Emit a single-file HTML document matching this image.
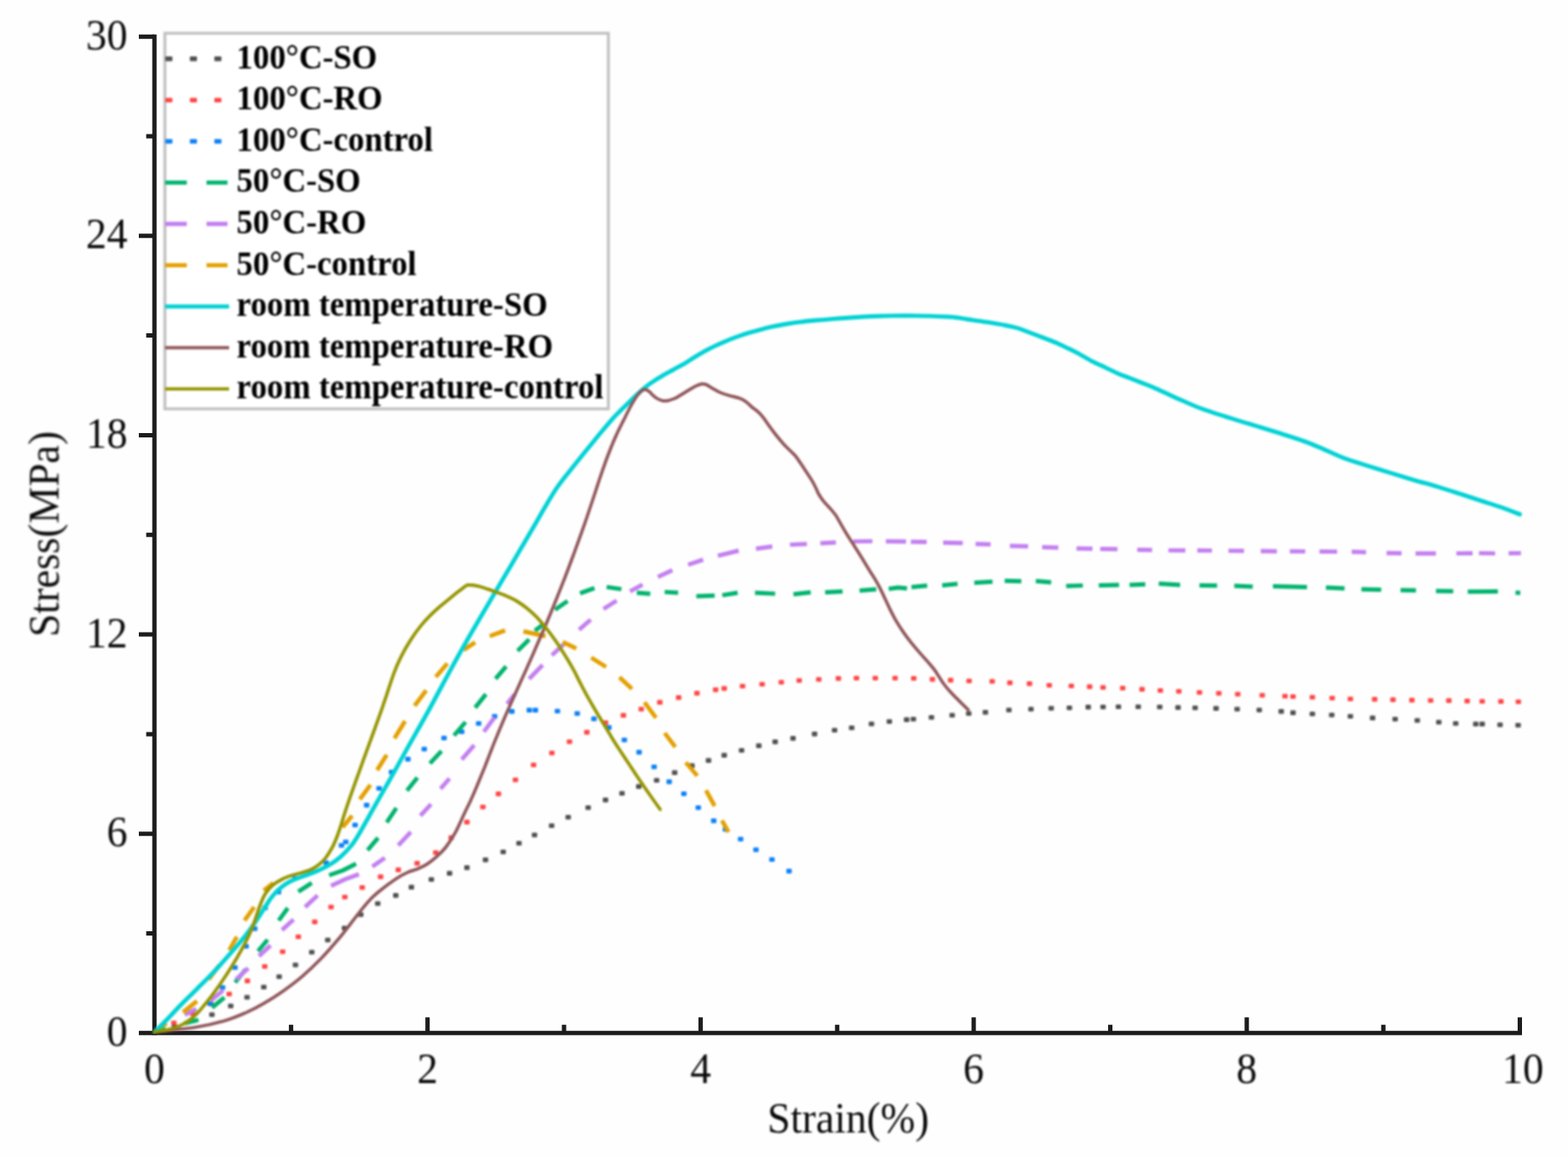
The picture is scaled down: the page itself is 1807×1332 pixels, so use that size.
<!DOCTYPE html>
<html lang="en">
<head>
<meta charset="utf-8">
<title>Stress-strain curves</title>
<style>
html,body{margin:0;padding:0;background:#fff;}
body{width:1807px;height:1332px;overflow:hidden;}
svg{display:block;}
text{font-family:"Liberation Serif",serif;fill:#0a0a0a;}
.tick{font-size:50.5px;}
.lab{font-size:48px;}
.leg{font-size:37.8px;font-weight:bold;fill:#000;}
.ax{stroke:#1c1c1c;stroke-width:5.0;fill:none;}
</style>
</head>
<body>
<svg width="1807" height="1332" viewBox="0 0 1807 1332">
<defs><filter id="soft" x="-5%" y="-5%" width="110%" height="110%" color-interpolation-filters="sRGB"><feGaussianBlur stdDeviation="0.8"/></filter></defs>
<rect width="1807" height="1332" fill="#fefefe"/>
<g>
<g id="axes">
<path class="ax" d="M178.0 39.7 V1192.8"/>
<path class="ax" d="M160.0 1190.3 H1754.0"/>
<path class="ax" d="M168.5 1075.5 H178.0 M160 960.7 H178.0 M168.5 845.9 H178.0 M160 731.1 H178.0 M168.5 616.2 H178.0 M160 501.4 H178.0 M168.5 386.6 H178.0 M160 271.8 H178.0 M168.5 157 H178.0 M160 42.2 H178.0 M335.4 1190.3 V1180.8 M492.7 1190.3 V1172.3 M650 1190.3 V1180.8 M807.4 1190.3 V1172.3 M964.8 1190.3 V1180.8 M1122.1 1190.3 V1172.3 M1279.5 1190.3 V1180.8 M1436.8 1190.3 V1172.3 M1594.2 1190.3 V1180.8 M1751.5 1190.3 V1172.3 "/>
</g>
<g id="curves" filter="url(#soft)">
<g fill="#4f4f4f"><rect x="197.9" y="1180.3" width="6.2" height="5.3" rx="1"/><rect x="218.9" y="1173.8" width="6.2" height="5.3" rx="1"/><rect x="241.1" y="1166.4" width="6.2" height="5.3" rx="1"/><rect x="262.8" y="1156.4" width="6.2" height="5.3" rx="1"/><rect x="281.6" y="1146.5" width="6.2" height="5.3" rx="1"/><rect x="300.9" y="1134.8" width="6.2" height="5.3" rx="1"/><rect x="318.6" y="1122.8" width="6.2" height="5.3" rx="1"/><rect x="337.4" y="1109.3" width="6.2" height="5.3" rx="1"/><rect x="356.2" y="1094.4" width="6.2" height="5.3" rx="1"/><rect x="374.6" y="1080.5" width="6.2" height="5.3" rx="1"/><rect x="393.9" y="1066.8" width="6.2" height="5.3" rx="1"/><rect x="412.7" y="1051.3" width="6.2" height="5.3" rx="1"/><rect x="432.2" y="1038.4" width="6.2" height="5.3" rx="1"/><rect x="453" y="1029.1" width="6.2" height="5.3" rx="1"/><rect x="471" y="1019.6" width="6.2" height="5.3" rx="1"/><rect x="494" y="1010.8" width="6.2" height="5.3" rx="1"/><rect x="515" y="1003.6" width="6.2" height="5.3" rx="1"/><rect x="535" y="997.1" width="6.2" height="5.3" rx="1"/><rect x="556.4" y="988.1" width="6.2" height="5.3" rx="1"/><rect x="576.8" y="978.9" width="6.2" height="5.3" rx="1"/><rect x="595" y="968.9" width="6.2" height="5.3" rx="1"/><rect x="612.9" y="959.4" width="6.2" height="5.3" rx="1"/><rect x="632.6" y="948.8" width="6.2" height="5.3" rx="1"/><rect x="651.7" y="939" width="6.2" height="5.3" rx="1"/><rect x="674.7" y="928" width="6.2" height="5.3" rx="1"/><rect x="694.7" y="919.1" width="6.2" height="5.3" rx="1"/><rect x="713.7" y="911.4" width="6.2" height="5.3" rx="1"/><rect x="733" y="903.6" width="6.2" height="5.3" rx="1"/><rect x="753.6" y="896.4" width="6.2" height="5.3" rx="1"/><rect x="774.4" y="887.6" width="6.2" height="5.3" rx="1"/><rect x="794.3" y="879.6" width="6.2" height="5.3" rx="1"/><rect x="813.4" y="873.6" width="6.2" height="5.3" rx="1"/><rect x="831.5" y="867.6" width="6.2" height="5.3" rx="1"/><rect x="851.5" y="862" width="6.2" height="5.3" rx="1"/><rect x="871.4" y="856.6" width="6.2" height="5.3" rx="1"/><rect x="890.2" y="852.1" width="6.2" height="5.3" rx="1"/><rect x="910.8" y="848.1" width="6.2" height="5.3" rx="1"/><rect x="935.6" y="843.1" width="6.2" height="5.3" rx="1"/><rect x="958.7" y="838.8" width="6.2" height="5.3" rx="1"/><rect x="978.4" y="835.9" width="6.2" height="5.3" rx="1"/><rect x="1001.2" y="831.5" width="6.2" height="5.3" rx="1"/><rect x="1021.8" y="828.8" width="6.2" height="5.3" rx="1"/><rect x="1041.7" y="826.6" width="6.2" height="5.3" rx="1"/><rect x="1049.5" y="825.9" width="6.2" height="5.3" rx="1"/><rect x="1070.3" y="823.9" width="6.2" height="5.3" rx="1"/><rect x="1094.2" y="821.5" width="6.2" height="5.3" rx="1"/><rect x="1113.3" y="819.5" width="6.2" height="5.3" rx="1"/><rect x="1132.5" y="818.1" width="6.2" height="5.3" rx="1"/><rect x="1159.6" y="815.5" width="6.2" height="5.3" rx="1"/><rect x="1185" y="814.4" width="6.2" height="5.3" rx="1"/><rect x="1208.3" y="813.5" width="6.2" height="5.3" rx="1"/><rect x="1229.3" y="812.9" width="6.2" height="5.3" rx="1"/><rect x="1251" y="812.1" width="6.2" height="5.3" rx="1"/><rect x="1268.1" y="812" width="6.2" height="5.3" rx="1"/><rect x="1285.8" y="811.8" width="6.2" height="5.3" rx="1"/><rect x="1308.6" y="811.8" width="6.2" height="5.3" rx="1"/><rect x="1333.4" y="812" width="6.2" height="5.3" rx="1"/><rect x="1354.5" y="812.6" width="6.2" height="5.3" rx="1"/><rect x="1374.2" y="812.9" width="6.2" height="5.3" rx="1"/><rect x="1398.3" y="813.6" width="6.2" height="5.3" rx="1"/><rect x="1422.6" y="814.4" width="6.2" height="5.3" rx="1"/><rect x="1448.1" y="815.4" width="6.2" height="5.3" rx="1"/><rect x="1473.4" y="817.1" width="6.2" height="5.3" rx="1"/><rect x="1487" y="818.6" width="6.2" height="5.3" rx="1"/><rect x="1509.3" y="819.9" width="6.2" height="5.3" rx="1"/><rect x="1531.6" y="821.2" width="6.2" height="5.3" rx="1"/><rect x="1553.1" y="822.8" width="6.2" height="5.3" rx="1"/><rect x="1578.7" y="824.6" width="6.2" height="5.3" rx="1"/><rect x="1604.7" y="826" width="6.2" height="5.3" rx="1"/><rect x="1630.2" y="827.5" width="6.2" height="5.3" rx="1"/><rect x="1655" y="829.5" width="6.2" height="5.3" rx="1"/><rect x="1674.5" y="831" width="6.2" height="5.3" rx="1"/><rect x="1697.6" y="831.6" width="6.2" height="5.3" rx="1"/><rect x="1705" y="831.6" width="6.2" height="5.3" rx="1"/><rect x="1725.6" y="832.5" width="6.2" height="5.3" rx="1"/><rect x="1746.4" y="833" width="6.2" height="5.3" rx="1"/></g>
<g fill="#ff4545"><rect x="197.3" y="1176" width="6.2" height="5.3" rx="1"/><rect x="218.9" y="1165.3" width="6.2" height="5.3" rx="1"/><rect x="239.9" y="1154.3" width="6.2" height="5.3" rx="1"/><rect x="261" y="1142.8" width="6.2" height="5.3" rx="1"/><rect x="282" y="1127.6" width="6.2" height="5.3" rx="1"/><rect x="302" y="1111" width="6.2" height="5.3" rx="1"/><rect x="322.6" y="1094" width="6.2" height="5.3" rx="1"/><rect x="340.7" y="1076.8" width="6.2" height="5.3" rx="1"/><rect x="359.6" y="1059.6" width="6.2" height="5.3" rx="1"/><rect x="378.4" y="1042.4" width="6.2" height="5.3" rx="1"/><rect x="394.3" y="1030.9" width="6.2" height="5.3" rx="1"/><rect x="414.3" y="1019.9" width="6.2" height="5.3" rx="1"/><rect x="435.5" y="1007.6" width="6.2" height="5.3" rx="1"/><rect x="455.9" y="999.6" width="6.2" height="5.3" rx="1"/><rect x="477.6" y="992.1" width="6.2" height="5.3" rx="1"/><rect x="499.1" y="979.8" width="6.2" height="5.3" rx="1"/><rect x="516.8" y="962.6" width="6.2" height="5.3" rx="1"/><rect x="535" y="944.6" width="6.2" height="5.3" rx="1"/><rect x="553.4" y="927.2" width="6.2" height="5.3" rx="1"/><rect x="571.3" y="912.1" width="6.2" height="5.3" rx="1"/><rect x="590.9" y="895.9" width="6.2" height="5.3" rx="1"/><rect x="611.8" y="878.8" width="6.2" height="5.3" rx="1"/><rect x="632.9" y="864.9" width="6.2" height="5.3" rx="1"/><rect x="653.2" y="852" width="6.2" height="5.3" rx="1"/><rect x="673.2" y="841.1" width="6.2" height="5.3" rx="1"/><rect x="694.7" y="830.1" width="6.2" height="5.3" rx="1"/><rect x="715.3" y="821.6" width="6.2" height="5.3" rx="1"/><rect x="735.9" y="814.4" width="6.2" height="5.3" rx="1"/><rect x="757.3" y="806.6" width="6.2" height="5.3" rx="1"/><rect x="779" y="801.1" width="6.2" height="5.3" rx="1"/><rect x="800.1" y="796.1" width="6.2" height="5.3" rx="1"/><rect x="821.6" y="792.1" width="6.2" height="5.3" rx="1"/><rect x="831.5" y="790.6" width="6.2" height="5.3" rx="1"/><rect x="852.6" y="788" width="6.2" height="5.3" rx="1"/><rect x="875.2" y="785.8" width="6.2" height="5.3" rx="1"/><rect x="897.3" y="783.4" width="6.2" height="5.3" rx="1"/><rect x="917.9" y="781.4" width="6.2" height="5.3" rx="1"/><rect x="940.5" y="780.2" width="6.2" height="5.3" rx="1"/><rect x="963.1" y="779.1" width="6.2" height="5.3" rx="1"/><rect x="983.9" y="778.8" width="6.2" height="5.3" rx="1"/><rect x="1005.6" y="778.8" width="6.2" height="5.3" rx="1"/><rect x="1028.4" y="778.8" width="6.2" height="5.3" rx="1"/><rect x="1049.9" y="779" width="6.2" height="5.3" rx="1"/><rect x="1071.4" y="780.1" width="6.2" height="5.3" rx="1"/><rect x="1092.4" y="781.1" width="6.2" height="5.3" rx="1"/><rect x="1113.7" y="781.9" width="6.2" height="5.3" rx="1"/><rect x="1140.3" y="782.5" width="6.2" height="5.3" rx="1"/><rect x="1160.7" y="784.1" width="6.2" height="5.3" rx="1"/><rect x="1183.3" y="785.1" width="6.2" height="5.3" rx="1"/><rect x="1206.1" y="787" width="6.2" height="5.3" rx="1"/><rect x="1231.5" y="787.8" width="6.2" height="5.3" rx="1"/><rect x="1252.6" y="788.6" width="6.2" height="5.3" rx="1"/><rect x="1268.1" y="789.4" width="6.2" height="5.3" rx="1"/><rect x="1290.7" y="790.2" width="6.2" height="5.3" rx="1"/><rect x="1313" y="791.6" width="6.2" height="5.3" rx="1"/><rect x="1334.1" y="792.9" width="6.2" height="5.3" rx="1"/><rect x="1355.4" y="793.9" width="6.2" height="5.3" rx="1"/><rect x="1379.2" y="795.2" width="6.2" height="5.3" rx="1"/><rect x="1401.5" y="796.2" width="6.2" height="5.3" rx="1"/><rect x="1423.3" y="797.2" width="6.2" height="5.3" rx="1"/><rect x="1451.5" y="798.5" width="6.2" height="5.3" rx="1"/><rect x="1477.8" y="799.5" width="6.2" height="5.3" rx="1"/><rect x="1487" y="800" width="6.2" height="5.3" rx="1"/><rect x="1509.3" y="800.8" width="6.2" height="5.3" rx="1"/><rect x="1532.1" y="801.8" width="6.2" height="5.3" rx="1"/><rect x="1553.1" y="802.8" width="6.2" height="5.3" rx="1"/><rect x="1581.1" y="803.1" width="6.2" height="5.3" rx="1"/><rect x="1602.2" y="803.6" width="6.2" height="5.3" rx="1"/><rect x="1624" y="804.1" width="6.2" height="5.3" rx="1"/><rect x="1645.6" y="804.5" width="6.2" height="5.3" rx="1"/><rect x="1666.6" y="804.6" width="6.2" height="5.3" rx="1"/><rect x="1687.7" y="805.1" width="6.2" height="5.3" rx="1"/><rect x="1705" y="805.5" width="6.2" height="5.3" rx="1"/><rect x="1726.6" y="805.6" width="6.2" height="5.3" rx="1"/><rect x="1746.7" y="806" width="6.2" height="5.3" rx="1"/></g>
<g fill="#0a80f5"><rect x="238.9" y="1153.8" width="6.2" height="5.3" rx="1"/><rect x="253.4" y="1135.3" width="6.2" height="5.3" rx="1"/><rect x="267.7" y="1112.3" width="6.2" height="5.3" rx="1"/><rect x="280.5" y="1087.8" width="6.2" height="5.3" rx="1"/><rect x="290.5" y="1067.4" width="6.2" height="5.3" rx="1"/><rect x="302.4" y="1043.5" width="6.2" height="5.3" rx="1"/><rect x="317.9" y="1025.3" width="6.2" height="5.3" rx="1"/><rect x="336.9" y="1009.4" width="6.2" height="5.3" rx="1"/><rect x="354.9" y="1001.4" width="6.2" height="5.3" rx="1"/><rect x="372.8" y="991.5" width="6.2" height="5.3" rx="1"/><rect x="390.4" y="971.4" width="6.2" height="5.3" rx="1"/><rect x="395.4" y="967.4" width="6.2" height="5.3" rx="1"/><rect x="406.1" y="947.9" width="6.2" height="5.3" rx="1"/><rect x="419.4" y="925.1" width="6.2" height="5.3" rx="1"/><rect x="433.7" y="905.8" width="6.2" height="5.3" rx="1"/><rect x="448.1" y="887" width="6.2" height="5.3" rx="1"/><rect x="467" y="872.1" width="6.2" height="5.3" rx="1"/><rect x="485.8" y="860.4" width="6.2" height="5.3" rx="1"/><rect x="508.6" y="847.8" width="6.2" height="5.3" rx="1"/><rect x="529" y="840.5" width="6.2" height="5.3" rx="1"/><rect x="548.5" y="831" width="6.2" height="5.3" rx="1"/><rect x="566.9" y="822.8" width="6.2" height="5.3" rx="1"/><rect x="586.8" y="817.1" width="6.2" height="5.3" rx="1"/><rect x="606.9" y="815.6" width="6.2" height="5.3" rx="1"/><rect x="613.9" y="815.6" width="6.2" height="5.3" rx="1"/><rect x="639.3" y="816.8" width="6.2" height="5.3" rx="1"/><rect x="662.1" y="819.4" width="6.2" height="5.3" rx="1"/><rect x="681.4" y="825.6" width="6.2" height="5.3" rx="1"/><rect x="698.6" y="835.6" width="6.2" height="5.3" rx="1"/><rect x="716.4" y="850" width="6.2" height="5.3" rx="1"/><rect x="733.4" y="864.1" width="6.2" height="5.3" rx="1"/><rect x="750.7" y="881" width="6.2" height="5.3" rx="1"/><rect x="768.1" y="898.1" width="6.2" height="5.3" rx="1"/><rect x="785" y="912" width="6.2" height="5.3" rx="1"/><rect x="801.6" y="928" width="6.2" height="5.3" rx="1"/><rect x="819.4" y="943.1" width="6.2" height="5.3" rx="1"/><rect x="832.9" y="952.9" width="6.2" height="5.3" rx="1"/><rect x="850.4" y="964.2" width="6.2" height="5.3" rx="1"/><rect x="868.1" y="976.5" width="6.2" height="5.3" rx="1"/><rect x="886.5" y="987.8" width="6.2" height="5.3" rx="1"/><rect x="906.2" y="1001.1" width="6.2" height="5.3" rx="1"/></g>
<path d="M183 1186.5 L190 1183M212.9 1179.2 L228.7 1175.1M244.4 1161 L258.6 1149.4M271 1132 L283 1117M297.3 1096 L308.4 1082.7M321.2 1060.6 L331.7 1046.2M343.8 1027.4 L359.3 1017.4M379.3 1008.5 L395 1003 L410.3 995.2M423.6 979.7 L435.7 965.3M445.7 947.6 L456.8 931M469 911.1 L481 896M495.5 879.6 L508.8 865.3M523.2 847.5 L536.5 832M547.6 815.4 L560 799.9M571.1 782.2 L583.3 767.8M596.5 750.1 L609.8 736.8M616.5 726.8 L626.4 719.1M639.7 702.5 L654.1 692.5M668.5 683.6 L685.1 677.6M699.1 676.3 L716.1 678.8M733.9 683 L749.4 684.3M766 682.1 L781.5 683M802.5 687 L823.6 686.3M832.4 685.8 L850.1 683M870.1 683 L893.3 684.1M914.4 684.7 L934.3 682.5M950.9 682.5 L971 681.5M990.6 680.5 L1009.8 679M1024.2 678.5 L1035 677 L1045.3 678M1050.4 676.5 L1068.5 674.8M1085.8 674.5 L1103.5 672.8M1122.8 671.5 L1143.8 670.3M1157.8 669.3 L1177 669.8M1193.7 669.5 L1211.4 671M1228.7 675.2 L1247.9 674.6M1266.3 674.5 L1289.6 674M1301.7 674 L1319.9 673.3M1335.4 672.5 L1360 674M1382.3 674.5 L1402.6 674.8M1422.4 675 L1443.7 676M1467 675.5 L1506.2 676.5M1528 677 L1549.5 678M1568.9 679 L1591.7 679.5M1614 680 L1631.8 680.3M1654.8 681 L1674.7 681.2M1691.5 681.8 L1726.2 681.5M1746.5 683 L1752 683" fill="none" stroke="#00b36e" stroke-width="4.9" stroke-linecap="butt" stroke-linejoin="round"/>
<path d="M212.9 1169.3 L226.2 1162.6M243 1153 L257.2 1141M272 1128.5 L286.1 1115.6M298.4 1101.6 L311.7 1089.4M325 1071.6 L338.3 1059.5M351.6 1045.1 L366 1031.8M381.5 1020.7 L398 1013 L413.6 1007.4M429.1 998.6 L443.5 988.6M459 974.2 L473.4 958.7M484.5 939.9 L496.7 926.6M507.7 908.9 L518 897M532.1 875.2 L546.5 858.6M557.6 843.1 L570 826.5M584.4 811 L593.2 799.9M609.8 782.2 L625.3 766.2M636 755 L650 742M667.4 725.7 L680.7 714M695.5 701.8 L710.6 692M726.1 681.4 L740.5 673.7M758.2 664.8 L774.8 657M793 650.8 L810.3 644.9M827.3 640.4 L851.3 634.5M871.2 632.2 L890 629.8M910.4 627.6 L929.9 626.7M945.4 626 L963.3 625M983.3 623.9 L1005.4 623.6M1020.9 623.8 L1044.2 624M1049.7 624.2 L1067.9 624.5M1086.9 625.2 L1109.5 625.7M1124.3 626.7 L1141.6 627.3M1163.8 629 L1184.8 629.5M1201 630.5 L1219.6 631M1240.6 632 L1259 632.3M1267.9 632.5 L1287.8 632.8M1310.6 633.5 L1327.7 633.7M1346.5 634.1 L1366 634.2M1379.8 634.3 L1396.7 634.4M1415.7 634.6 L1433.6 634.8M1452.9 635 L1471.5 635.2M1486.4 635.3 L1504.2 635.4M1520.6 635.5 L1540.9 635.6M1557.7 635.8 L1574.3 636.2M1597.9 637.2 L1615.2 637.5M1631.3 637.8 L1654.8 637.8M1678.4 637.6 L1697 637.5M1704.4 637.4 L1723 637.6M1738.6 637.5 L1752.7 637.4" fill="none" stroke="#c37ff0" stroke-width="4.9" stroke-linecap="butt" stroke-linejoin="round"/>
<path d="M183 1185 L192 1179M211 1166.5 L227 1153.5M240.5 1128.5 L252.5 1112.5M264.1 1094.9 L273 1079.4M281.8 1060.6 L292.9 1045.1M304 1026.2 L315 1017.4M394.8 953.2 L405.8 939.9M414.7 921 L426.9 904.4M434.6 887.4 L445.7 869.7M454.6 850.8 L466.8 830.9M477.8 813.2 L491.1 795.5M502.2 780 L515.5 764.5M534.3 749 L547.6 740.1M564.4 733 L582.1 726.4M603.2 727.5 L628.7 733M648.6 739.7 L664.1 747.2M681.4 757.8 L698.4 768.5M713.9 780.4 L728.3 793.7M742.7 809.2 L756 827.1M766 844.6 L778.2 860.8M790.3 878.5 L803.6 894M813.6 910.6 L823.6 928.8M832 945.4 L839.5 958.7" fill="none" stroke="#e3a000" stroke-width="4.9" stroke-linecap="butt" stroke-linejoin="round"/>
<path d="M178.2 1189 C180.7 1186.6 188.5 1178.9 192.9 1174.3 C197.3 1169.8 199.1 1167.4 204.7 1161.7 C210.2 1156 219 1147.5 226.3 1140.2 C233.6 1132.9 240.9 1125.8 248.3 1117.9 C255.6 1110 265 1099.2 270.7 1092.7 C276.4 1086.2 278.4 1083.7 282.3 1078.8 C286.1 1073.9 290.1 1068.5 293.8 1063.1 C297.6 1057.7 301.8 1050.9 304.9 1046.2 C307.9 1041.5 309.7 1038.3 312.2 1034.9 C314.8 1031.5 317.4 1028.5 320.2 1025.8 C323.1 1023.1 326 1020.8 329.2 1018.7 C332.3 1016.7 335.5 1015.1 339 1013.6 C342.5 1012 346.3 1010.8 350 1009.4 C353.7 1008.1 357.7 1006.7 361 1005.4 C364.4 1004.1 366.6 1003.2 369.9 1001.6 C373.3 1000 377.3 998.1 380.9 995.8 C384.6 993.5 388.1 991.1 391.8 987.9 C395.5 984.7 400.2 979.7 403 976.5 C405.9 973.3 406.9 971.6 408.8 968.8 C410.7 966.1 412.4 963.1 414.3 960 C416.2 956.8 418.1 953.3 420 950 C421.9 946.7 424.5 942 425.6 940 C426.7 938 424.8 941.3 426.7 938 C428.6 934.7 433.3 926.2 436.8 920.1 C440.3 913.9 444 907.5 447.7 901 C451.4 894.6 455.2 887.8 458.9 881.1 C462.6 874.4 466.3 867.7 470 861.1 C473.7 854.5 477.4 848 481.1 841.5 C484.8 835 488.7 828.2 492.1 822 C495.6 815.7 497.3 812.6 501.9 804 C506.6 795.3 513.8 781.7 520.2 770.1 C526.5 758.5 533.5 746.1 540.1 734.5 C546.8 722.9 553.4 711.7 560 700.4 C566.7 689.1 574.1 676.6 580 666.5 C585.9 656.4 589.3 650.8 595.6 640 C601.9 629.2 612.3 611.5 617.9 601.9 C623.5 592.4 625.3 588.9 629.1 582.5 C632.8 576.2 636.9 569.4 640.4 564 C644 558.6 647.1 554.8 650.5 550.3 C654 545.8 656.9 542.3 661.1 537 C665.4 531.7 671 524.7 676 518.5 C681 512.4 686.3 505.9 691.1 500 C696 494.2 701.3 487.9 705.2 483.4 C709.2 478.9 711.7 476.6 714.9 473.2 C718.2 469.9 721.6 466.7 724.9 463.5 C728.2 460.3 731.5 457 734.9 453.9 C738.2 450.8 741.7 447.7 745 445.1 C748.3 442.4 751.5 440.3 754.8 438.2 C758.1 436 761 434.4 764.7 432.2 C768.4 430.1 773 427.7 777.1 425.4 C781.2 423.1 785.1 421.1 789.4 418.6 C793.6 416.1 798.4 412.7 802.4 410.3 C806.4 407.8 809.7 406 813.3 404 C817 402 820.7 400.2 824.5 398.4 C828.2 396.6 831.9 395 835.6 393.4 C839.4 391.8 843 390.4 846.7 389 C850.4 387.6 854.1 386.3 857.8 385.1 C861.5 383.9 865.2 382.8 868.9 381.8 C872.6 380.7 876.3 379.7 880 378.8 C883.7 377.8 887.4 377 891.1 376.2 C894.8 375.4 898.5 374.7 902.2 374 C905.9 373.3 909.6 372.8 913.3 372.2 C917 371.7 920.7 371.1 924.4 370.7 C928.1 370.2 931.9 369.8 935.6 369.5 C939.3 369.2 943 368.9 946.7 368.6 C950.4 368.3 954.1 368 957.8 367.6 C961.5 367.3 965.2 367 968.9 366.7 C972.6 366.5 974.1 366.3 980 366 C985.9 365.6 996.6 364.9 1004.3 364.5 C1012 364.2 1019 364 1026.4 363.9 C1033.8 363.8 1041.2 363.8 1048.6 363.8 C1056 363.9 1063.3 363.9 1070.7 364.1 C1078.1 364.3 1087.4 364.7 1092.9 365 C1098.4 365.3 1100.3 365.6 1104 366.1 C1107.6 366.6 1109.5 367.1 1115.1 368 C1120.6 368.8 1129.8 370 1137.2 371.2 C1144.5 372.3 1153.4 373.8 1159.3 375 C1165.2 376.1 1168.8 377 1172.5 378 C1176.2 379.1 1176.3 379.3 1181.5 381.2 C1186.7 383.2 1197.4 387.2 1203.6 389.6 C1209.9 392.1 1214.8 394 1218.9 395.7 C1223 397.4 1224.5 398.3 1228.1 400.1 C1231.8 401.9 1235.8 403.6 1241 406.3 C1246.2 409.1 1254.5 414.2 1259.3 416.7 C1264.2 419.3 1265.1 419.4 1269.9 421.6 C1274.7 423.9 1282.8 427.9 1288 430.2 C1293.2 432.5 1296.6 433.6 1301 435.3 C1305.4 437 1310 438.8 1314.5 440.6 C1318.9 442.3 1323.2 443.9 1327.6 445.7 C1332 447.6 1335.5 449.2 1340.9 451.7 C1346.3 454.1 1352.6 457.2 1360 460.4 C1367.4 463.7 1374.8 467.3 1385.1 471 C1395.4 474.8 1411.6 479.8 1421.9 483 C1432.2 486.2 1438.4 488 1446.7 490.5 C1454.9 493.1 1462.1 495.2 1471.5 498.2 C1481 501.3 1493.9 505.1 1503.4 508.6 C1512.9 512 1520.9 515.8 1528.5 519 C1536 522.2 1541.5 525 1548.5 527.7 C1555.6 530.3 1561.6 532.2 1570.6 535 C1579.6 537.9 1592.8 541.9 1602.8 545 C1612.7 548 1621.1 550.6 1630.2 553.3 C1639.3 556 1648.1 558.2 1657.2 561 C1666.3 563.7 1675.9 566.9 1684.6 569.7 C1693.3 572.5 1702.1 575.4 1709.5 577.9 C1717 580.3 1722.4 581.9 1729.4 584.3 C1736.4 586.8 1747.8 591.2 1751.5 592.6" fill="none" stroke="#00d2d4" stroke-width="4.9" stroke-linecap="round" stroke-linejoin="round"/>
<path d="M178.2 1189 C186.2 1188.1 212.7 1185.7 226.2 1183.5 C239.8 1181.4 249.8 1178.8 259.4 1176 C269 1173.2 276.5 1169.8 283.9 1166.6 C291.2 1163.3 296.7 1160.5 303.7 1156.4 C310.7 1152.4 318.5 1147.4 325.9 1142.2 C333.3 1137 340.5 1131.7 347.9 1125.4 C355.2 1119.1 362.5 1112.2 370 1104.5 C377.4 1096.8 386.8 1085.8 392.4 1079.2 C398 1072.6 399.9 1069.8 403.6 1065 C407.3 1060.2 410.9 1055.3 414.7 1050.6 C418.5 1045.9 422.3 1041 426.4 1036.7 C430.4 1032.5 434.1 1029.4 439.2 1025.3 C444.3 1021.2 451.8 1015.6 457 1012.2 C462.2 1008.8 466.4 1006.7 470.4 1004.9 C474.4 1003.1 477.4 1002.8 481 1001.3 C484.6 999.8 488.2 998.2 491.9 995.9 C495.6 993.5 499.4 990.6 503.1 987.2 C506.7 983.9 510.3 980.6 513.9 976 C517.5 971.3 521.2 965.7 524.7 959.4 C528.1 953.1 531.9 944.2 534.7 938.2 C537.6 932.1 539.8 927.9 542 923.2 C544.1 918.5 545.9 914.4 547.8 910 C549.7 905.6 551.5 901.2 553.3 896.7 C555.1 892.2 557 887.9 558.8 883.3 C560.7 878.6 562.5 873.7 564.4 868.9 C566.3 864.1 566.8 862.5 570.1 854.4 C573.4 846.4 579.5 831.7 584.3 820.6 C589.1 809.5 595.2 796.3 598.9 788 C602.6 779.7 603.5 778.1 606.6 771.1 C609.8 764 613.9 754.5 617.8 745.6 C621.7 736.7 626.2 726.5 629.9 717.7 C633.6 709 636.5 702 640 693.3 C643.5 684.6 647.5 674.4 651 665.5 C654.4 656.7 656.9 650.1 660.6 640 C664.3 629.9 669.1 616.9 673.3 604.9 C677.5 592.9 682.8 576.6 685.7 568 C688.6 559.3 689 557.7 690.6 553 C692.2 548.3 693.6 544.2 695.1 539.8 C696.7 535.4 698.2 531 699.9 526.5 C701.6 522.1 703.4 517.5 705.1 513.2 C706.9 508.9 708.8 504.4 710.6 500.6 C712.3 496.7 714.2 493.1 715.7 490 C717.2 486.9 718.2 485.1 719.8 482 C721.3 478.9 723.3 474.8 725 471.5 C726.7 468.3 728.4 465.2 730.1 462.4 C731.7 459.6 733.5 457 735 455 C736.5 453 737.8 451.7 739 450.6 C740.2 449.6 741.3 449.1 742.4 448.9 C743.5 448.7 744.4 448.7 745.6 449.3 C746.8 449.9 748.7 451.7 749.7 452.5 C750.6 453.3 750 453.2 751.2 454.3 C752.5 455.4 754.9 457.8 757 459 C759 460.2 761.3 461.2 763.4 461.7 C765.6 462.1 767.5 462.1 769.9 461.6 C772.3 461.2 776.1 459.6 777.7 459 C779.4 458.3 777.8 459.1 780 457.8 C782.2 456.5 787.4 453.3 791.1 451.1 C794.8 448.9 799.4 446.1 802.3 444.7 C805.3 443.2 807 442.6 809 442.4 C810.9 442.2 811.9 442.4 814.2 443.3 C816.4 444.3 819.6 446.7 822.3 448.2 C825 449.7 827 451.1 830.2 452.4 C833.3 453.7 837.5 454.8 841.2 455.9 C844.8 457 849 457.6 852 458.8 C855.1 459.9 857 461 859.5 462.8 C862.1 464.6 864.7 467.5 867.1 469.5 C869.5 471.5 871.9 472.9 874 474.9 C876.1 476.8 877.8 478.8 879.8 481.3 C881.8 483.8 883.5 486.8 885.8 489.9 C888 493 890.6 496.5 893.3 500 C896.1 503.5 899.6 507.8 902.4 510.9 C905.2 514.1 907.8 516.4 910.1 518.8 C912.4 521.1 914.2 522.4 916.2 524.8 C918.3 527.2 920.2 530.2 922.3 533.3 C924.4 536.3 926.7 539.9 928.9 543.3 C931.1 546.7 933.7 550.4 935.5 553.4 C937.3 556.4 938.4 558.5 939.7 561.2 C941.1 564 942.2 567 943.7 569.8 C945.3 572.5 947 574.9 949.2 577.6 C951.3 580.2 954.3 583.1 956.6 585.7 C958.9 588.4 961.3 591.2 963 593.5 C964.7 595.9 964.9 596.7 966.8 599.9 C968.7 603.2 971.9 609 974.5 613.2 C977.1 617.5 979.9 621.8 982.3 625.6 C984.6 629.3 986.6 632.1 988.8 635.7 C991 639.2 993.3 643 995.6 646.7 C997.8 650.4 1000.1 654.2 1002.3 657.7 C1004.5 661.3 1006.7 664.5 1008.7 667.9 C1010.7 671.3 1012.4 674.2 1014.2 677.9 C1016.1 681.6 1018.1 686 1020 690 C1021.9 694 1023.6 698 1025.7 702.1 C1027.8 706.3 1030 710.7 1032.4 714.9 C1034.8 719 1037.4 723 1040.2 727.1 C1042.9 731.2 1045.9 735.1 1049.2 739.4 C1052.5 743.6 1056.8 748.6 1060.1 752.4 C1063.4 756.2 1066.1 758.9 1068.8 762.1 C1071.5 765.2 1074.2 768.2 1076.4 771.2 C1078.7 774.2 1080.3 776.9 1082.2 779.8 C1084.1 782.7 1086 785.8 1088 788.5 C1090.1 791.3 1092.2 793.9 1094.6 796.6 C1096.9 799.2 1099.6 801.8 1102.2 804.4 C1104.8 807 1107.8 809.9 1110 812.2 C1112.3 814.4 1114.8 816.9 1115.8 817.8" fill="none" stroke="#8f5558" stroke-width="3.7" stroke-linecap="round" stroke-linejoin="round"/>
<path d="M178.2 1189 C180.2 1188.7 186.1 1188 189.9 1187.3 C193.7 1186.5 197.6 1185.5 200.9 1184.3 C204.2 1183.2 207 1182 209.9 1180.6 C212.8 1179.1 215.7 1177.3 218.3 1175.4 C220.9 1173.5 223.1 1171.5 225.4 1169.4 C227.6 1167.2 228.5 1166.4 231.9 1162.4 C235.2 1158.4 240.8 1151.7 245.3 1145.6 C249.9 1139.5 254.6 1132.8 259.2 1125.8 C263.8 1118.8 268.9 1110.5 273 1103.7 C277 1096.9 280.5 1090.6 283.4 1084.9 C286.3 1079.3 287.5 1077 290.4 1069.7 C293.2 1062.5 297.7 1048.1 300.4 1041.2 C303.1 1034.4 303.9 1032.4 306.4 1028.8 C308.8 1025.2 311.6 1022.2 314.9 1019.5 C318.1 1016.8 322.2 1014.5 325.8 1012.7 C329.5 1010.8 333.1 1009.7 336.8 1008.5 C340.4 1007.3 344.1 1006.6 347.8 1005.5 C351.4 1004.3 355.4 1003.2 358.7 1001.7 C362 1000.2 364.7 998.5 367.5 996.3 C370.2 994.1 372.6 991.9 375.2 988.6 C377.7 985.2 380.6 980.7 382.9 976.5 C385.1 972.3 387 967.6 388.7 963.2 C390.4 958.8 391.8 954.2 393.2 950 C394.6 945.8 395.2 943.2 396.9 938.1 C398.6 932.9 400.4 927.3 403.3 918.9 C406.3 910.5 410.7 898.2 414.4 887.8 C418.1 877.4 422 866.9 425.7 856.7 C429.4 846.5 433.6 835.1 436.6 826.7 C439.6 818.2 440.9 814.4 443.8 805.9 C446.7 797.5 450.8 784.2 453.9 775.8 C457 767.5 459.4 762.3 462.6 755.8 C465.9 749.3 469.9 742.6 473.6 736.9 C477.3 731.2 481 726 484.7 721.4 C488.4 716.7 492.1 712.8 495.8 709.1 C499.5 705.4 503.1 702.2 506.8 699 C510.5 695.8 514.1 693 517.8 690 C521.5 687 525.7 683.6 528.9 681.1 C532.1 678.7 534.9 676.4 536.8 675.2 C538.7 674 537.7 673.9 540.1 674 C542.5 674 547.3 674.6 551 675.4 C554.7 676.2 558.5 677.7 562.2 678.9 C565.9 680.1 569.6 681.5 573.3 682.8 C577 684.1 580.6 685.3 584.3 687 C588 688.6 591.7 690.3 595.4 692.5 C599.1 694.8 602.8 697.3 606.5 700.3 C610.2 703.2 614.6 707.3 617.6 710.2 C620.6 713.1 622.2 715.2 624.4 717.8 C626.6 720.4 628.4 722.4 630.9 725.7 C633.5 729.1 637.3 734.2 639.9 737.9 C642.5 741.6 644 743.8 646.6 747.9 C649.2 751.9 653 757.9 655.5 762.2 C658.1 766.5 659.6 769.2 662 773.6 C664.3 778.1 666.9 783.6 669.7 788.9 C672.5 794.2 675.6 800.1 678.6 805.4 C681.6 810.7 684.5 815.5 687.5 820.7 C690.6 825.9 693.8 831.2 697 836.5 C700.2 841.8 703.5 847.3 706.6 852.4 C709.8 857.5 712.9 862.3 716 867 C719.1 871.7 722 876.1 725.1 880.8 C728.2 885.5 731.4 890.3 734.5 895 C737.7 899.7 741 904.5 744 908.9 C747 913.2 749.7 917 752.5 921 C755.3 925 759.4 930.7 760.8 932.6" fill="none" stroke="#949400" stroke-width="3.8" stroke-linecap="round" stroke-linejoin="round"/>
</g>
<g id="ticklabels" class="tick" filter="url(#soft)">
<text transform="translate(147 1204.9) scale(0.95 1)" text-anchor="end">0</text>
<text transform="translate(147 975.3) scale(0.95 1)" text-anchor="end">6</text>
<text transform="translate(147 745.7) scale(0.95 1)" text-anchor="end">12</text>
<text transform="translate(147 516) scale(0.95 1)" text-anchor="end">18</text>
<text transform="translate(147 286.4) scale(0.95 1)" text-anchor="end">24</text>
<text transform="translate(147 56.8) scale(0.95 1)" text-anchor="end">30</text>
<text transform="translate(178 1247.5) scale(0.95 1)" text-anchor="middle">0</text>
<text transform="translate(492.7 1247.5) scale(0.95 1)" text-anchor="middle">2</text>
<text transform="translate(807.4 1247.5) scale(0.95 1)" text-anchor="middle">4</text>
<text transform="translate(1122.1 1247.5) scale(0.95 1)" text-anchor="middle">6</text>
<text transform="translate(1436.8 1247.5) scale(0.95 1)" text-anchor="middle">8</text>
<text transform="translate(1755 1247.5) scale(0.95 1)" text-anchor="middle">10</text>
<text class="lab" transform="translate(977.5 1304.6) scale(1 1.04)" text-anchor="middle">Strain(%)</text>
<text class="lab" transform="translate(67.2 615.4) rotate(-90) scale(1 1.04)" text-anchor="middle">Stress(MPa)</text>
</g>
<g id="legend" filter="url(#soft)">
<rect x="190" y="38.3" width="511.1" height="432.8" fill="#fff" stroke="#c0c0c0" stroke-width="3.3"/>
<g fill="#4f4f4f"><rect x="190.5" y="65.1" width="8.2" height="5.3" rx="1"/><rect x="218.8" y="65.1" width="8.2" height="5.3" rx="1"/><rect x="247" y="65.1" width="8.2" height="5.3" rx="1"/></g>
<text class="leg" transform="translate(272.6 78.8) scale(1 1.07)">100°C-SO</text>
<g fill="#ff4545"><rect x="190.5" y="112.7" width="8.2" height="5.3" rx="1"/><rect x="218.8" y="112.7" width="8.2" height="5.3" rx="1"/><rect x="247" y="112.7" width="8.2" height="5.3" rx="1"/></g>
<text class="leg" transform="translate(272.6 126.3) scale(1 1.07)">100°C-RO</text>
<g fill="#0a80f5"><rect x="190.5" y="160.2" width="8.2" height="5.3" rx="1"/><rect x="218.8" y="160.2" width="8.2" height="5.3" rx="1"/><rect x="247" y="160.2" width="8.2" height="5.3" rx="1"/></g>
<text class="leg" transform="translate(272.6 173.9) scale(1 1.07)">100°C-control</text>
<path d="M190.3 210.4 H215.3 M238 210.4 H262.2" stroke="#00b36e" stroke-width="4.9" fill="none"/>
<text class="leg" transform="translate(272.6 221.4) scale(1 1.07)">50°C-SO</text>
<path d="M190.3 258 H215.3 M238 258 H262.2" stroke="#c37ff0" stroke-width="4.9" fill="none"/>
<text class="leg" transform="translate(272.6 269) scale(1 1.07)">50°C-RO</text>
<path d="M190.3 305.6 H215.3 M238 305.6 H262.2" stroke="#e3a000" stroke-width="4.9" fill="none"/>
<text class="leg" transform="translate(272.6 316.6) scale(1 1.07)">50°C-control</text>
<path d="M190.3 353.1 H264" stroke="#00d2d4" stroke-width="4.9" fill="none"/>
<text class="leg" transform="translate(272.6 364.1) scale(1 1.07)">room temperature-SO</text>
<path d="M190.3 400.6 H264" stroke="#8f5558" stroke-width="3.7" fill="none"/>
<text class="leg" transform="translate(272.6 411.6) scale(1 1.07)">room temperature-RO</text>
<path d="M190.3 448.2 H264" stroke="#949400" stroke-width="3.8" fill="none"/>
<text class="leg" transform="translate(272.6 459.2) scale(1 1.07)">room temperature-control</text>
</g>
</g>
</svg>
</body>
</html>
